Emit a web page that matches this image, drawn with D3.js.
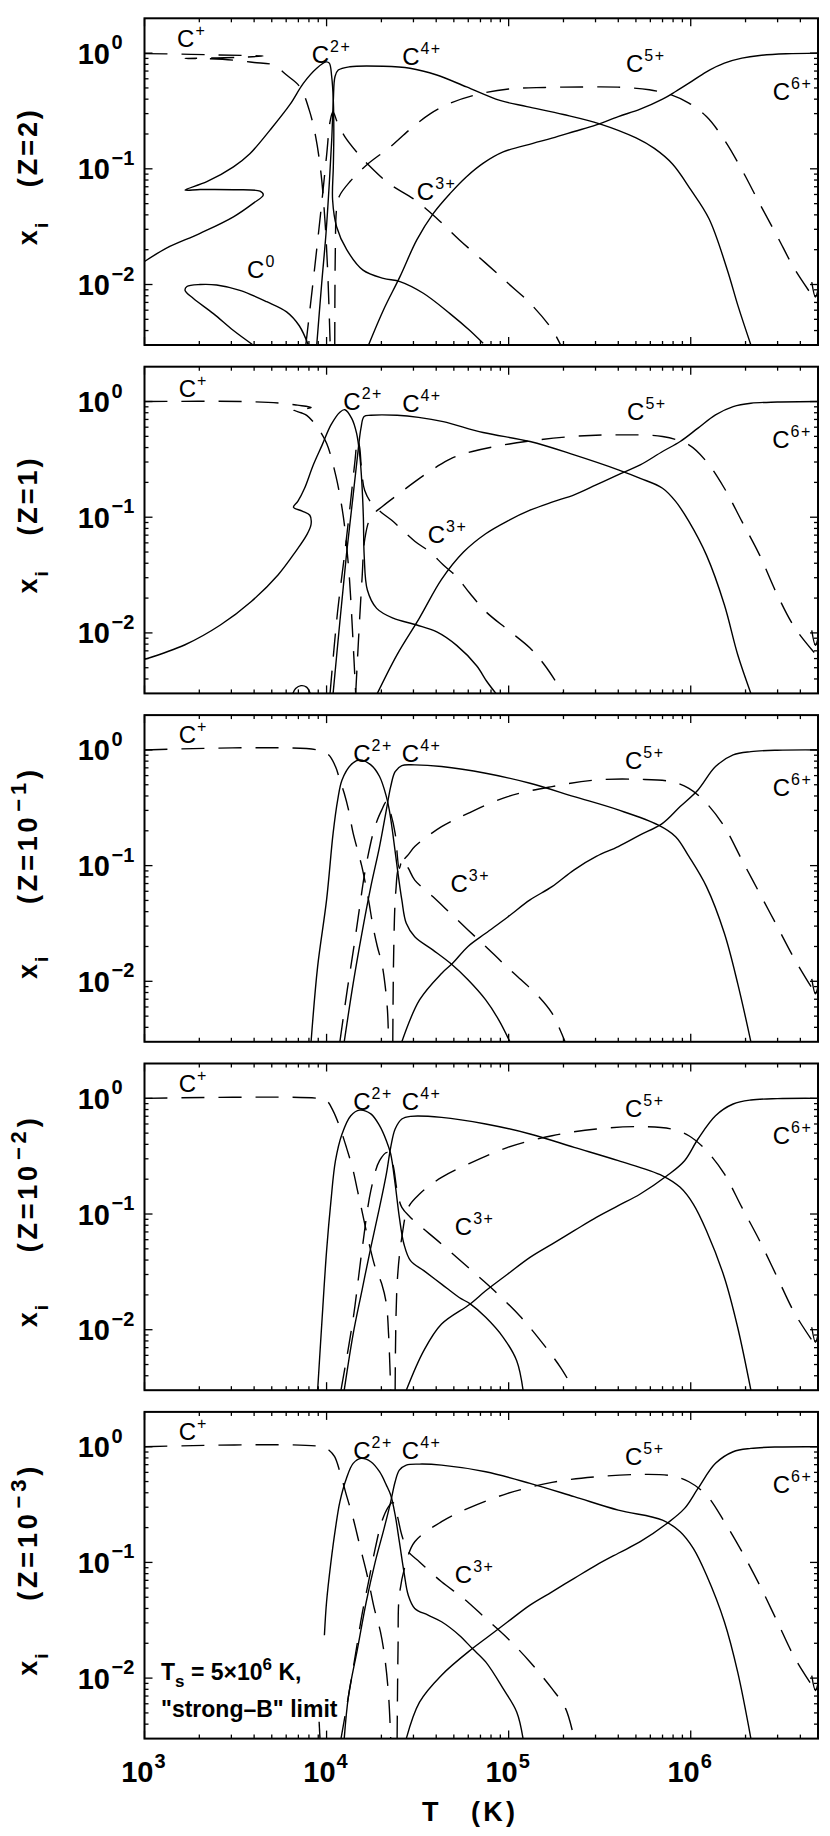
<!DOCTYPE html>
<html>
<meta charset="utf-8">
<title>Carbon ion fractions</title>
<style>
  body { margin: 0; background: #fff; }
  svg { display: block; }
  .frame { fill: none; stroke: #000; stroke-width: 2; }
  .tick { stroke: #000; stroke-width: 1.3; }
  .ion { fill: none; stroke: #000; stroke-width: 1.4; stroke-linejoin: round; }
  .dash { stroke-dasharray: 23,14; }
  .lab { font-family: "Liberation Sans", Arial, sans-serif; font-size: 24px; }
  .tl { font-family: "Liberation Sans", Arial, sans-serif; font-weight: bold; font-size: 29px; }
  .tlsup { font-family: "Liberation Sans", Arial, sans-serif; font-weight: bold; font-size: 20px; }
  .ttl { font-family: "Liberation Sans", Arial, sans-serif; font-weight: bold; font-size: 27px; }
  .note { font-family: "Liberation Sans", Arial, sans-serif; font-weight: bold; font-size: 23px; }
</style>
<body>
<div id="chart"></div>
<script src="https://d3js.org/d3.v7.min.js"></script>
<script>
// ---- data: [T (K), ion fraction x_i] ----

// Z = 2
var c0_Z2 = [[3.95e3,0.003],[3.08e3,0.0040],[2.39e3,0.0056],[1.85e3,0.0076],[1.67e3,0.0089],[1.71e3,0.0096],[2.02e3,0.0100],[2.49e3,0.0099],[3.34e3,0.0089],[4.69e3,0.0071],[6.03e3,0.0058],[7.08e3,0.0044],[7.94e3,0.003]];
var c1_Z2 = [[1e3,0.99],[1.6e3,0.98],[2.5e3,0.965],[3.5e3,0.955],[4.49e3,0.944],[3.6e3,0.925],[2.5e3,0.91],[1.67e3,0.90],[2.2e3,0.895],[3.08e3,0.87],[4.0e3,0.83],[5.1e3,0.79],[6.03e3,0.646],[7.14e3,0.51],[8.04e3,0.32],[8.71e3,0.19],[9.33e3,0.09],[9.77e3,0.038],[1.012e4,0.014],[1.047e4,0.003]];
var c2_Z2 = [[1e3,0.0158],[1.32e3,0.0206],[2.02e3,0.0277],[3.08e3,0.0385],[3.95e3,0.0503],[4.49e3,0.0594],[4.31e3,0.0640],[3.08e3,0.0660],[2.02e3,0.0662],[1.67e3,0.0656],[2.2e3,0.0774],[3.08e3,0.104],[3.79e3,0.135],[4.89e3,0.216],[6.30e3,0.36],[7.45e3,0.548],[8.83e3,0.74],[9.93e3,0.84],[1.035e4,0.82],[1.067e4,0.625],[1.089e4,0.39],[1.096e4,0.203],[1.089e4,0.104],[1.079e4,0.054],[1.135e4,0.0316],[1.29e4,0.020],[1.585e4,0.0133],[2.05e4,0.0113],[2.53e4,0.0106],[3.40e4,0.0084],[4.76e4,0.0056],[6.12e4,0.0040],[7.24e4,0.0031]];
var c3_Z2 = [[7.69e3,0.003],[8.51e3,0.012],[9.33e3,0.045],[1.0e4,0.13],[1.047e4,0.26],[1.084e4,0.31],[1.148e4,0.25],[1.259e4,0.19],[1.479e4,0.137],[1.70e4,0.108],[2.19e4,0.075],[3.05e4,0.054],[4.05e4,0.037],[5.35e4,0.0244],[7.48e4,0.0153],[9.89e4,0.0103],[1.31e5,0.0069],[1.73e5,0.0041],[1.93e5,0.003]];
var c4_Z2 = [[8.83e3,0.003],[9.40e3,0.0102],[9.93e3,0.0277],[1.035e4,0.075],[1.067e4,0.177],[1.089e4,0.39],[1.112e4,0.625],[1.159e4,0.714],[1.343e4,0.763],[2.05e4,0.77],[2.87e4,0.74],[4.03e4,0.647],[5.87e4,0.51],[8.95e4,0.39],[1.26e5,0.345],[2.0e5,0.295],[3.16e5,0.245],[5.01e5,0.185],[6.31e5,0.15],[7.94e5,0.11],[1.0e6,0.066],[1.26e6,0.037],[1.585e6,0.0135],[1.82e6,0.0065],[2.14e6,0.003]];
var c5_Z2 = [[1.109e4,0.003],[1.117e4,0.02],[1.135e4,0.045],[1.175e4,0.058],[1.349e4,0.078],[1.66e4,0.108],[2.24e4,0.155],[2.88e4,0.22],[3.72e4,0.30],[4.79e4,0.37],[6.76e4,0.44],[1.0e5,0.49],[1.585e5,0.505],[2.51e5,0.51],[3.98e5,0.508],[5.92e5,0.482],[7.82e5,0.436],[9.77e5,0.37],[1.22e6,0.283],[1.53e6,0.178],[1.91e6,0.098],[2.39e6,0.050],[2.99e6,0.026],[3.74e6,0.0134],[5e6,0.0068]];
var c6_Z2 = [[1.70e4,0.003],[2.05e4,0.006],[2.53e4,0.0117],[3.13e4,0.0243],[3.85e4,0.041],[4.76e4,0.061],[5.87e4,0.0855],[7.26e4,0.112],[9.33e4,0.14],[1.36e5,0.166],[1.73e5,0.184],[2.29e5,0.21],[3.03e5,0.24],[4.0e5,0.283],[5.28e5,0.328],[7.0e5,0.40],[8.26e5,0.466],[9.77e5,0.55],[1.22e6,0.69],[1.53e6,0.82],[1.91e6,0.905],[2.39e6,0.955],[3.34e6,0.987],[5e6,1.0]];

// Z = 1
var c0_Z1 = [[6.53e3,0.003],[6.76e3,0.0033],[7.24e3,0.0035],[7.76e3,0.0034],[8.13e3,0.003]];
var c1_Z1 = [[1e3,1.0],[3.49e3,1.0],[5.5e3,0.97],[6.92e3,0.93],[8.22e3,0.89],[7.41e3,0.86],[6.58e3,0.845],[7.24e3,0.80],[7.78e3,0.76],[8.83e3,0.61],[1.0e4,0.435],[1.127e4,0.224],[1.236e4,0.101],[1.315e4,0.040],[1.355e4,0.0206],[1.40e4,0.008],[1.445e4,0.003]];
var c2_Z1 = [[1e3,0.0059],[1.67e3,0.0079],[2.61e3,0.0117],[3.86e3,0.0187],[5.41e3,0.0317],[6.76e3,0.0505],[7.78e3,0.0703],[8.22e3,0.087],[8.09e3,0.104],[7.35e3,0.113],[6.58e3,0.122],[6.95e3,0.137],[7.57e3,0.178],[8.45e3,0.283],[9.46e3,0.422],[1.057e4,0.628],[1.183e4,0.809],[1.26e4,0.85],[1.374e4,0.716],[1.462e4,0.531],[1.524e4,0.333],[1.563e4,0.196],[1.592e4,0.101],[1.61e4,0.0456],[1.675e4,0.0235],[1.884e4,0.0163],[2.32e4,0.0134],[3.13e4,0.0117],[4.03e4,0.0102],[5.18e4,0.0078],[6.67e4,0.0052],[7.59e4,0.0038],[8.51e4,0.003]];
var c3_Z1 = [[1.045e4,0.003],[1.148e4,0.015],[1.26e4,0.05],[1.35e4,0.13],[1.43e4,0.30],[1.48e4,0.47],[1.52e4,0.40],[1.55e4,0.28],[1.62e4,0.17],[1.78e4,0.13],[2.0e4,0.11],[2.28e4,0.094],[3.05e4,0.062],[3.7e4,0.05],[4.38e4,0.0386],[5.18e4,0.0306],[6.12e4,0.022],[7.48e4,0.0153],[1.0e5,0.0105],[1.31e5,0.0074],[1.585e5,0.0052],[2.0e5,0.003]];
var c4_Z1 = [[1.086e4,0.003],[1.183e4,0.0125],[1.285e4,0.047],[1.40e4,0.156],[1.496e4,0.40],[1.545e4,0.589],[1.607e4,0.742],[1.75e4,0.76],[2.44e4,0.76],[3.2e4,0.73],[4.37e4,0.67],[7.24e4,0.54],[1.31e5,0.451],[2.29e5,0.346],[4.0e5,0.257],[5.28e5,0.217],[7.0e5,0.178],[8.26e5,0.137],[9.77e5,0.092],[1.22e6,0.047],[1.53e6,0.0175],[1.81e6,0.0065],[2.14e6,0.003]];
var c5_Z1 = [[1.445e4,0.003],[1.514e4,0.012],[1.567e4,0.03],[1.622e4,0.065],[1.75e4,0.10],[2.04e4,0.125],[2.57e4,0.165],[3.02e4,0.20],[3.98e4,0.27],[4.79e4,0.32],[6.31e4,0.37],[1.107e5,0.44],[2.29e5,0.50],[4.0e5,0.515],[7.0e5,0.498],[9.77e5,0.422],[1.22e6,0.303],[1.53e6,0.178],[1.91e6,0.092],[2.39e6,0.047],[2.99e6,0.0213],[3.74e6,0.011],[5e6,0.0062]];
var c6_Z1 = [[1.90e4,0.003],[2.44e4,0.0065],[3.24e4,0.0135],[4.28e4,0.029],[5.65e4,0.05],[7.48e4,0.072],[9.89e4,0.093],[1.31e5,0.115],[1.73e5,0.135],[2.29e5,0.156],[3.02e5,0.19],[3.98e5,0.232],[5.28e5,0.283],[7.0e5,0.37],[8.75e5,0.451],[1.096e6,0.589],[1.368e6,0.767],[1.71e6,0.905],[2.14e6,0.967],[2.99e6,0.99],[5e6,1.0]];

// Z = 1e-1
var c1_Zm1 = [[1e3,1.0],[8.93e3,1.0],[1.028e4,0.905],[1.119e4,0.718],[1.183e4,0.55],[1.25e4,0.422],[1.32e4,0.303],[1.40e4,0.19],[1.479e4,0.137],[1.563e4,0.098],[1.607e4,0.080],[1.70e4,0.0505],[1.80e4,0.0297],[1.90e4,0.02],[2.01e4,0.0143],[2.09e4,0.0096],[2.16e4,0.0056],[2.19e4,0.003]];
var c2_Zm1 = [[8.22e3,0.003],[8.93e3,0.0134],[1.0e4,0.0505],[1.086e4,0.19],[1.151e4,0.37],[1.216e4,0.55],[1.358e4,0.742],[1.52e4,0.82],[1.75e4,0.742],[1.954e4,0.589],[2.13e4,0.395],[2.21e4,0.303],[2.31e4,0.19],[2.44e4,0.098],[2.59e4,0.0505],[2.74e4,0.0317],[3.05e4,0.0243],[3.83e4,0.0187],[4.79e4,0.0143],[5.98e4,0.0103],[7.48e4,0.0069],[8.85e4,0.0046],[1.016e5,0.003]];
var c3_Zm1 = [[1.183e4,0.003],[1.30e4,0.0085],[1.42e4,0.021],[1.52e4,0.044],[1.607e4,0.08],[1.70e4,0.128],[1.80e4,0.19],[1.90e4,0.248],[2.01e4,0.303],[2.13e4,0.357],[2.25e4,0.283],[2.38e4,0.19],[2.51e4,0.095],[2.61e4,0.113],[2.81e4,0.095],[3.05e4,0.075],[3.83e4,0.054],[4.79e4,0.0387],[5.98e4,0.0278],[7.48e4,0.02],[9.33e4,0.0143],[1.17e5,0.0103],[1.46e5,0.0074],[1.73e5,0.0053],[2.04e5,0.003]];
var c4_Zm1 = [[1.25e4,0.003],[1.40e4,0.0096],[1.563e4,0.026],[1.75e4,0.0658],[1.954e4,0.146],[2.13e4,0.303],[2.25e4,0.482],[2.38e4,0.65],[2.59e4,0.733],[3.05e4,0.742],[4.28e4,0.718],[7.48e4,0.628],[1.31e5,0.515],[2.29e5,0.395],[4.0e5,0.303],[6.61e5,0.225],[8.26e5,0.178],[9.77e5,0.12],[1.22e6,0.0658],[1.53e6,0.026],[1.81e6,0.0096],[2.14e6,0.003]];
var c5_Zm1 = [[2.31e4,0.003],[2.34e4,0.02],[2.40e4,0.06],[2.51e4,0.10],[2.82e4,0.125],[3.05e4,0.146],[4.28e4,0.217],[5.98e4,0.283],[9.89e4,0.395],[1.73e5,0.482],[3.03e5,0.55],[5.28e5,0.557],[7.82e5,0.532],[9.77e5,0.466],[1.22e6,0.346],[1.53e6,0.217],[1.91e6,0.112],[2.39e6,0.0576],[2.99e6,0.0297],[3.74e6,0.0153],[5e6,0.0072]];
var c6_Zm1 = [[2.59e4,0.003],[3.24e4,0.0069],[4.28e4,0.0117],[4.92e4,0.0143],[5.98e4,0.02],[7.48e4,0.026],[9.89e4,0.036],[1.31e5,0.0505],[1.73e5,0.0658],[2.29e5,0.092],[3.03e5,0.12],[4.0e5,0.146],[5.28e5,0.184],[7.0e5,0.232],[8.75e5,0.324],[1.096e6,0.451],[1.368e6,0.718],[1.71e6,0.905],[2.14e6,0.967],[2.99e6,0.995],[5e6,1.0]];

// Z = 1e-2
var c1_Zm2 = [[1e3,1.0],[8.93e3,1.0],[1.0e4,0.955],[1.086e4,0.78],[1.183e4,0.561],[1.285e4,0.377],[1.40e4,0.237],[1.479e4,0.159],[1.563e4,0.107],[1.65e4,0.0718],[1.75e4,0.048],[1.85e4,0.0346],[2.01e4,0.0248],[2.13e4,0.0167],[2.19e4,0.0092],[2.25e4,0.003]];
var c2_Zm2 = [[8.93e3,0.003],[9.46e3,0.0128],[1.0e4,0.048],[1.057e4,0.13],[1.119e4,0.289],[1.216e4,0.492],[1.358e4,0.708],[1.52e4,0.79],[1.75e4,0.733],[1.954e4,0.58],[2.13e4,0.43],[2.25e4,0.33],[2.38e4,0.182],[2.51e4,0.0935],[2.66e4,0.055],[2.89e4,0.0395],[3.42e4,0.0324],[4.28e4,0.0248],[5.35e4,0.019],[6.15e4,0.0167],[7.48e4,0.0128],[9.33e4,0.0086],[1.107e5,0.0054],[1.2e5,0.003]];
var c3_Zm2 = [[1.20e4,0.003],[1.40e4,0.0125],[1.563e4,0.048],[1.75e4,0.159],[1.954e4,0.289],[2.16e4,0.341],[2.31e4,0.27],[2.44e4,0.159],[2.59e4,0.114],[2.89e4,0.0935],[4.28e4,0.055],[5.98e4,0.0346],[8.35e4,0.0217],[1.17e5,0.0128],[1.55e5,0.0075],[1.93e5,0.0047],[2.29e5,0.003]];
var c4_Zm2 = [[1.25e4,0.003],[1.40e4,0.0092],[1.563e4,0.0217],[1.75e4,0.0515],[1.954e4,0.114],[2.13e4,0.222],[2.25e4,0.377],[2.38e4,0.543],[2.59e4,0.663],[2.89e4,0.699],[4.28e4,0.685],[7.48e4,0.60],[1.31e5,0.492],[2.29e5,0.377],[4.0e5,0.289],[7.0e5,0.214],[8.75e5,0.17],[1.033e6,0.122],[1.22e6,0.0718],[1.53e6,0.0283],[1.81e6,0.0105],[2.14e6,0.003]];
var c5_Zm2 = [[2.38e4,0.003],[2.44e4,0.0248],[2.59e4,0.063],[2.81e4,0.114],[3.24e4,0.149],[4.28e4,0.207],[5.98e4,0.27],[9.89e4,0.377],[1.73e5,0.475],[3.03e5,0.543],[5.28e5,0.569],[7.82e5,0.543],[9.77e5,0.475],[1.22e6,0.353],[1.53e6,0.222],[1.91e6,0.114],[2.39e6,0.0588],[2.99e6,0.0283],[3.74e6,0.0137],[5e6,0.0068]];
var c6_Zm2 = [[2.74e4,0.003],[3.42e4,0.0066],[4.28e4,0.0112],[6.15e4,0.0167],[7.48e4,0.0217],[9.89e4,0.0303],[1.31e5,0.0422],[1.73e5,0.055],[2.29e5,0.0718],[3.03e5,0.0935],[4.0e5,0.118],[5.28e5,0.149],[7.4e5,0.214],[9.25e5,0.289],[1.096e6,0.445],[1.368e6,0.708],[1.71e6,0.893],[2.14e6,0.967],[2.99e6,0.995],[5e6,1.0]];

// Z = 1e-3
var c1_Zm3 = [[1e3,1.0],[9.46e3,1.0],[1.028e4,0.936],[1.107e4,0.82],[1.183e4,0.608],[1.285e4,0.382],[1.40e4,0.24],[1.52e4,0.141],[1.637e4,0.0887],[1.718e4,0.0637],[1.828e4,0.04],[1.977e4,0.0251],[2.09e4,0.0148],[2.19e4,0.0071],[2.25e4,0.003]];
var c2_Zm3 = [[9.73e3,0.0235],[1.0e4,0.0457],[1.057e4,0.101],[1.119e4,0.197],[1.183e4,0.334],[1.285e4,0.532],[1.40e4,0.718],[1.545e4,0.793],[1.75e4,0.742],[1.954e4,0.608],[2.13e4,0.466],[2.25e4,0.382],[2.38e4,0.257],[2.51e4,0.151],[2.66e4,0.083],[2.81e4,0.052],[3.05e4,0.04],[3.61e4,0.035],[4.28e4,0.0307],[5.35e4,0.0235],[6.32e4,0.018],[7.48e4,0.0138],[9.33e4,0.0081],[1.107e5,0.0051],[1.2e5,0.003]];
var c2stub_Zm3 = [[9.1e3,0.0042],[9.2e3,0.003]];
var c3_Zm3 = [[1.2e4,0.003],[1.321e4,0.0071],[1.439e4,0.0158],[1.563e4,0.035],[1.70e4,0.068],[1.85e4,0.132],[2.01e4,0.225],[2.19e4,0.303],[2.31e4,0.33],[2.44e4,0.257],[2.59e4,0.172],[2.81e4,0.124],[3.24e4,0.101],[4.28e4,0.068],[5.65e4,0.0489],[7.48e4,0.0328],[9.89e4,0.022],[1.31e5,0.0138],[1.73e5,0.0081],[2.05e5,0.0055],[2.29e5,0.003]];
var c4_Zm3 = [[1.25e4,0.003],[1.321e4,0.0071],[1.479e4,0.018],[1.652e4,0.0457],[1.85e4,0.101],[2.07e4,0.197],[2.25e4,0.334],[2.38e4,0.498],[2.51e4,0.628],[2.74e4,0.694],[3.24e4,0.708],[4.28e4,0.694],[7.48e4,0.608],[1.31e5,0.482],[2.29e5,0.37],[4.0e5,0.283],[7.0e5,0.232],[8.75e5,0.184],[1.033e6,0.132],[1.22e6,0.0777],[1.53e6,0.0307],[1.81e6,0.0113],[2.14e6,0.003]];
var c5_Zm3 = [[2.44e4,0.003],[2.47e4,0.0193],[2.51e4,0.052],[2.74e4,0.101],[3.05e4,0.151],[4.28e4,0.225],[5.98e4,0.293],[9.89e4,0.395],[1.73e5,0.492],[3.03e5,0.55],[5.28e5,0.576],[7.82e5,0.561],[9.77e5,0.498],[1.22e6,0.382],[1.53e6,0.225],[1.91e6,0.124],[2.39e6,0.0637],[2.99e6,0.0307],[3.74e6,0.0148],[5e6,0.0072]];
var c6_Zm3 = [[2.74e4,0.003],[3.24e4,0.0062],[4.28e4,0.0106],[6.32e4,0.018],[7.48e4,0.022],[9.89e4,0.0307],[1.31e5,0.0428],[1.73e5,0.0557],[2.29e5,0.0728],[3.03e5,0.0948],[4.0e5,0.12],[5.28e5,0.151],[7.4e5,0.217],[9.25e5,0.293],[1.096e6,0.436],[1.368e6,0.718],[1.71e6,0.905],[2.14e6,0.967],[2.99e6,0.995],[5e6,1.0]];

// little kink at the right edge seen in every panel
var edgeMark = [[4.62e6,0.0105],[4.84e6,0.0078],[5e6,0.0090]];

// ion labels: [superscript, T, x]
var labels_Z2  = [["+",1.51e3,1.14],["2+",8.28e3,0.817],["3+",3.13e4,0.0538],["4+",2.6e4,0.79],["5+",4.41e5,0.69],["6+",2.82e6,0.394],["0",3.66e3,0.0114]];
var labels_Z1  = [["+",1.54e3,1.10],["2+",1.236e4,0.845],["3+",3.59e4,0.0596],["4+",2.6e4,0.817],["5+",4.47e5,0.69],["6+",2.8e6,0.40]];
var labels_Zm1 = [["+",1.54e3,1.14],["2+",1.40e4,0.79],["3+",4.79e4,0.0596],["4+",2.59e4,0.79],["5+",4.35e5,0.69],["6+",2.82e6,0.40]];
var labels_Zm2 = [["+",1.54e3,1.14],["2+",1.40e4,0.79],["3+",5.06e4,0.066],["4+",2.59e4,0.79],["5+",4.35e5,0.69],["6+",2.82e6,0.40]];
var labels_Zm3 = [["+",1.54e3,1.14],["2+",1.40e4,0.79],["3+",5.06e4,0.066],["4+",2.59e4,0.79],["5+",4.35e5,0.70],["6+",2.82e6,0.40]];

// axes
var xTicks = [1e3, 1e4, 1e5, 1e6];
var xTickExp = ["3", "4", "5", "6"];
var yTicks = [1, 0.1, 0.01];
var yTickExp = ["0", "\u22121", "\u22122"];
var zBase = ["2", "1", "10", "10", "10"];
var zExp  = [null, null, "\u22121", "\u22122", "\u22123"];

// ---- layout ----
var W = 830, H = 1836;
var plotLeft = 144.5, plotRight = 818;
var top0 = 18.3, panelH = 326.7, step = 348.4;

var panels = [
  {solid: [c0_Z2, c2_Z2, c4_Z2, c6_Z2, edgeMark], dashed: [c1_Z2, c3_Z2, c5_Z2], labels: labels_Z2},
  {solid: [c0_Z1, c2_Z1, c4_Z1, c6_Z1, edgeMark], dashed: [c1_Z1, c3_Z1, c5_Z1], labels: labels_Z1},
  {solid: [c2_Zm1, c4_Zm1, c6_Zm1, edgeMark], dashed: [c1_Zm1, c3_Zm1, c5_Zm1], labels: labels_Zm1},
  {solid: [c2_Zm2, c4_Zm2, c6_Zm2, edgeMark], dashed: [c1_Zm2, c3_Zm2, c5_Zm2], labels: labels_Zm2},
  {solid: [c2_Zm3, c2stub_Zm3, c4_Zm3, c6_Zm3, edgeMark], dashed: [c1_Zm3, c3_Zm3, c5_Zm3], labels: labels_Zm3}
];

var svg = d3.select("#chart").append("svg").attr("width", W).attr("height", H);

var x = d3.scaleLog().domain([1e3, 5e6]).range([plotLeft, plotRight]);

var xMinor = [];
for (var k = 3; k <= 6; k++) for (var m = 2; m <= 9; m++) { var v = m * Math.pow(10, k); if (v < 5e6) xMinor.push(v); }
var yMinor = [];
for (var k2 = -3; k2 <= 0; k2++) for (var m2 = 2; m2 <= 9; m2++) { var w = m2 * Math.pow(10, k2); if (w > 0.0031 && w < 1.99) yMinor.push(w); }

panels.forEach(function(p, i) {
  var top = top0 + i * step, bottom = top + panelH;
  var y = d3.scaleLog().domain([0.003, 2]).range([bottom, top]);
  var g = svg.append("g");

  g.append("clipPath").attr("id", "clip" + i)
    .append("rect").attr("x", plotLeft).attr("y", top).attr("width", plotRight - plotLeft).attr("height", panelH);

  var line = d3.line()
      .x(function(d) { return x(d[0]); })
      .y(function(d) { return y(d[1]); })
      .curve(d3.curveCatmullRom.alpha(0.5));

  var curves = g.append("g").attr("clip-path", "url(#clip" + i + ")");
  p.solid.forEach(function(s) { curves.append("path").attr("class", "ion").attr("d", line(s)); });
  p.dashed.forEach(function(s) { curves.append("path").attr("class", "ion dash").attr("d", line(s)); });

  // ticks on all four sides, pointing in
  var tk = g.append("g");
  function xt(v, len) {
    tk.append("line").attr("class", "tick").attr("x1", x(v)).attr("x2", x(v)).attr("y1", bottom).attr("y2", bottom - len);
    tk.append("line").attr("class", "tick").attr("x1", x(v)).attr("x2", x(v)).attr("y1", top).attr("y2", top + len);
  }
  function yt(v, len) {
    tk.append("line").attr("class", "tick").attr("x1", plotLeft).attr("x2", plotLeft + len).attr("y1", y(v)).attr("y2", y(v));
    tk.append("line").attr("class", "tick").attr("x1", plotRight).attr("x2", plotRight - len).attr("y1", y(v)).attr("y2", y(v));
  }
  xTicks.forEach(function(v) { xt(v, 8); });
  xMinor.forEach(function(v) { xt(v, 4); });
  yTicks.forEach(function(v) { yt(v, 8); });
  yMinor.forEach(function(v) { yt(v, 4); });

  g.append("rect").attr("class", "frame")
    .attr("x", plotLeft).attr("y", top).attr("width", plotRight - plotLeft).attr("height", panelH);

  // y tick labels
  yTicks.forEach(function(v, j) {
    g.append("text").attr("class", "tl").attr("x", 110).attr("y", y(v) + 10.5).attr("text-anchor", "end").text("10");
    g.append("text").attr("class", "tlsup").attr("x", 111.5).attr("y", y(v) - 4).text(yTickExp[j]);
  });

  // ion labels
  p.labels.forEach(function(l) {
    var t = g.append("text").attr("class", "lab").attr("x", x(l[1])).attr("y", y(l[2]));
    t.append("tspan").text("C");
    t.append("tspan").attr("dy", -11).attr("dx", 1).attr("font-size", 16).attr("letter-spacing", 1.5).text(l[0]);
  });

  // y title: "x_i" then the (Z=...) part, the whole thing centred on the panel
  var longZ = zExp[i] !== null;
  var lenZ = longZ ? 134 : 77, gap = longZ ? 52 : 35, lenX = 23;
  var total = lenX + gap + lenZ;
  var a0 = 4 - total / 2, b0 = a0 + lenX + gap;
  var tg = g.append("g").attr("transform", "translate(37," + (top + panelH / 2) + ") rotate(-90)");
  var ta = tg.append("text").attr("class", "ttl").attr("x", a0).attr("y", 0);
  ta.append("tspan").text("x");
  ta.append("tspan").attr("dy", 11).attr("dx", 2).attr("font-size", 19).text("i");
  var tb = tg.append("text").attr("class", "ttl").attr("x", b0).attr("y", 0)
    .attr("textLength", lenZ).attr("lengthAdjust", "spacing");
  tb.append("tspan").text("(Z=" + zBase[i]);
  if (longZ) {
    tb.append("tspan").attr("dy", -11).attr("dx", 2).attr("font-size", 22).text(zExp[i]);
    tb.append("tspan").attr("dy", 11).text(")");
  } else {
    tb.append("tspan").text(")");
  }

  if (i === panels.length - 1) {
    xTicks.forEach(function(v, j) {
      g.append("text").attr("class", "tl").attr("x", x(v) + 9).attr("y", bottom + 43).attr("text-anchor", "end").text("10");
      g.append("text").attr("class", "tlsup").attr("x", x(v) + 10).attr("y", bottom + 29).text(xTickExp[j]);
    });
    // x title
    g.append("text").attr("class", "ttl").attr("x", 422).attr("y", 1821).text("T");
    g.append("text").attr("class", "ttl").attr("x", 471).attr("y", 1821)
      .attr("textLength", 44).attr("lengthAdjust", "spacing").text("(K)");

    var n1 = g.append("text").attr("class", "note").attr("xml:space", "preserve").attr("x", 161).attr("y", top + 268);
    n1.append("tspan").text("T");
    n1.append("tspan").attr("dy", 7).attr("font-size", 17).text("s");
    n1.append("tspan").attr("dy", -7).text(" = 5\u00d710");
    n1.append("tspan").attr("dy", -10).attr("font-size", 17).text("6");
    n1.append("tspan").attr("dy", 10).text(" K,");
    g.append("text").attr("class", "note").attr("xml:space", "preserve").attr("x", 161).attr("y", top + 305)
      .text("\"strong\u2013B\" limit");
  }
});
</script>
</body>
</html>
